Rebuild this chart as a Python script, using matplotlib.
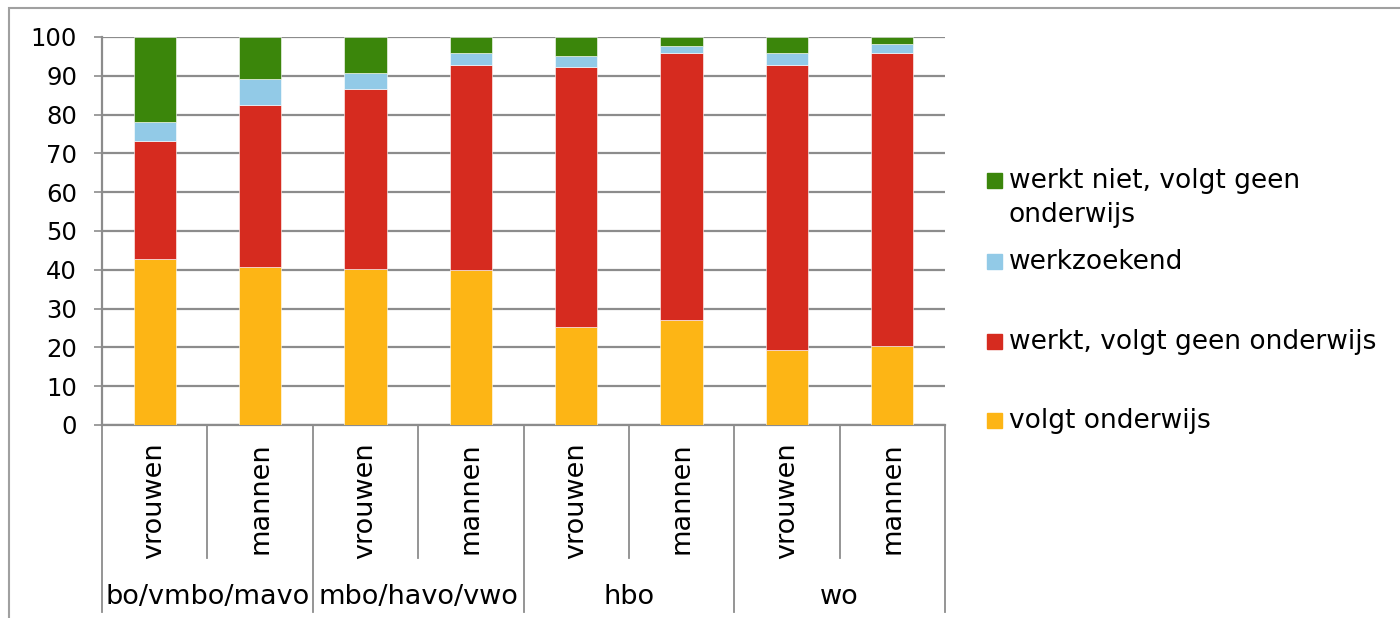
import matplotlib.pyplot as plt
from matplotlib.patches import Rectangle

groups = ["bo/vmbo/mavo", "mbo/havo/vwo", "hbo", "wo"]
sexes = ["vrouwen", "mannen"]

volgt_onderwijs = [42.7, 40.7, 40.1, 39.9, 25.2, 27.0, 19.4, 20.3]
werkt = [30.5, 41.7, 46.4, 52.8, 67.1, 68.9, 73.3, 75.6]
werkzoekend = [4.8, 6.7, 4.1, 3.2, 2.7, 1.9, 3.3, 2.4]
werkt_niet = [22.0, 10.9, 9.4, 4.1, 5.0, 2.2, 4.0, 1.7]

series = [
    ("volgt onderwijs", volgt_onderwijs, "#FDB515"),
    ("werkt, volgt geen onderwijs", werkt, "#D62B1F"),
    ("werkzoekend", werkzoekend, "#92CAE7"),
    ("werkt niet, volgt geen\nonderwijs", werkt_niet, "#3B860B"),
]

W, H = 1400, 618
plt.rcParams['font.family'] = ['DejaVu Sans']
fig = plt.figure(figsize=(W / 100, H / 100), dpi=100)
fs_tick = 17.5
fs_lab = 19.5
fs_leg = 19
grey = "#8c8c8c"

# outer chart frame (cut off at right/bottom)
fig.patches.append(Rectangle((9 / W, -0.1), 1.2, 1 - 8 / H + 0.1, transform=fig.transFigure,
                             fill=False, edgecolor="#a0a0a0", linewidth=1.5))

ax = fig.add_axes([102 / W, (H - 425) / H, (945 - 102) / W, (425 - 37) / H])
x = list(range(8))
bottom = [0] * 8
for name, vals, col in series:
    ax.bar(x, vals, width=0.4, bottom=bottom, color=col, edgecolor="white", linewidth=0.4, zorder=3)
    bottom = [b + v for b, v in zip(bottom, vals)]

ax.set_xlim(-0.5, 7.5)
ax.set_ylim(0, 100)
ax.set_yticks(range(0, 101, 10))
ax.tick_params(axis='y', labelsize=fs_tick, length=6, width=1.2, color=grey, pad=12)
ax.set_xticks([])
ax.yaxis.grid(True, color=grey, linewidth=1.6)
ax.set_axisbelow(True)
for s in ["top", "right"]:
    ax.spines[s].set_visible(False)
for s in ["left", "bottom"]:
    ax.spines[s].set_color(grey)
    ax.spines[s].set_linewidth(1.6)

# category axis (two levels)
trans = ax.get_xaxis_transform()
ah = 425 - 37
sub_bot = -(558 - 425) / ah
grp_bot = -(612 - 425) / ah
for k in range(8):
    xl = k - 0.5
    yb = grp_bot if k % 2 == 0 else sub_bot
    ax.plot([xl, xl], [0, yb], color=grey, lw=1.3, transform=trans, clip_on=False)
    ax.text(k, -(442 - 425) / ah, sexes[k % 2], rotation=90, ha="center", va="top",
            fontsize=fs_lab, transform=trans)
ax.plot([7.5, 7.5], [0, grp_bot], color=grey, lw=1.3, transform=trans, clip_on=False)
for g, name in enumerate(groups):
    ax.text(2 * g + 0.5, -(597 - 425) / ah, name, ha="center", va="center",
            fontsize=fs_lab, transform=trans)

# legend (baseline of first line, in pixels from top)
leg = [(3, 188), (2, 269), (1, 349), (0, 428)]
line_gap = 34
for idx, base in leg:
    name, vals, col = series[idx]
    fig.patches.append(Rectangle((987 / W, 1 - (base) / H), 15 / W, 15 / H,
                                 transform=fig.transFigure, color=col))
    for j, line in enumerate(name.split("\n")):
        fig.text(1009 / W, 1 - (base + j * line_gap) / H, line, fontsize=fs_leg, va="baseline")

fig.savefig("out.png", dpi=100)
